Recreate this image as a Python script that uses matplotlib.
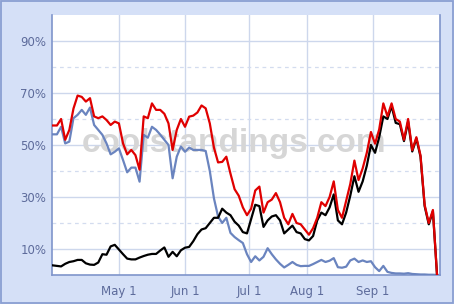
import matplotlib
matplotlib.use('Agg')
import matplotlib.pyplot as plt
import numpy as np
from matplotlib.patches import Rectangle

# sample grid: one point every 2 game days
day = np.arange(0, 188, 2)

playoff = [57.5, 57.5, 60, 52, 55.8, 64, 69, 68.5, 66.7, 68,
           61, 60.3, 61, 59.6, 57.7, 59, 58.3, 50.6, 46.4, 48.1,
           46.1, 40.5, 61, 60.3, 66, 63.5, 63.5, 62, 58.3, 48.1,
           55.8, 60, 57, 60.9, 61.3, 62.5, 65.2, 64.1, 58.3, 49,
           43.3, 43.5, 45.5, 39, 33, 30.5, 26, 23, 25.5, 32.5,
           34, 24, 28, 29, 31.5, 28, 22, 19.5, 23.5, 20,
           19.5, 17.5, 15.5, 18, 22, 28, 26.5, 30, 36, 25,
           22, 28.5, 35, 44, 36.5, 41, 47, 55, 50.5, 56,
           66, 61, 66, 60, 59, 52, 60, 48, 53, 46,
           27, 20, 25, 0]

division = [54.1, 54.1, 57, 50.6, 51.3, 60.3, 61.6, 63.5, 61.6, 64.4,
            57.7, 55.8, 53.9, 50.6, 46.4, 47.4, 48.7, 44.2, 39.5, 41.3,
            41.3, 35.9, 53.9, 52.8, 57, 55.8, 54, 52, 50, 37.2,
            45.5, 49.4, 47.4, 49, 48.1, 48.1, 48.1, 47.7, 40, 29.5,
            22.5, 20, 22, 16.2, 14.6, 13.4, 12.3, 8, 5, 7.2,
            5.6, 7, 10.3, 8, 6, 4.3, 2.9, 3.9, 5, 3.9,
            3.4, 3.5, 3.5, 4.2, 5, 5.8, 5, 5.5, 6.5, 3,
            2.8, 3.2, 5.6, 6.3, 5, 5.6, 5, 5.3, 3, 1.5,
            3.5, 1.2, 0.8, 0.6, 0.6, 0.5, 0.7, 0.4, 0.3, 0.2,
            0.2, 0.1, 0.1, 0]

wildcard = [3.7, 3.5, 3.3, 4.3, 5.0, 5.3, 5.8, 5.8, 4.5, 4.0,
            3.9, 4.8, 8.0, 7.8, 11.0, 11.6, 9.8, 8, 6.3, 6.0,
            6.0, 6.7, 7.3, 7.8, 8.1, 8.1, 9.4, 10.6, 7.0, 8.9,
            7.2, 9.5, 10.5, 10.8, 13, 15.7, 17.5, 18, 20, 22,
            22, 25.5, 24, 23, 20.5, 19, 16.5, 16, 21.5, 27,
            26.5, 18.5, 21, 22.5, 23, 21, 16, 17.5, 19, 16.5,
            16, 13.8, 13.3, 15, 21, 24, 23, 26, 31, 21,
            19.5, 24, 30.5, 38, 32, 36, 42, 50, 47, 53,
            61, 60, 65, 58.5, 58, 51.5, 59, 47.5, 52.5, 45.5,
            26.5, 19.5, 24.5, 0]

tick_days = [32, 64, 95, 123, 155]
tick_labels = ['May 1', 'Jun 1', 'Jul 1', 'Aug 1', 'Sep 1']

bg = '#d5e0f7'
edge = '#8a9fd2'
txt = '#5d6b9b'
grid_c = '#cdd7ec'

fig = plt.figure(figsize=(4.54, 3.04), dpi=100, facecolor=bg)
ax = fig.add_axes([0.1145, 0.0954, 0.8545, 0.8553])
ax.set_facecolor('white')

# outer frame
fig.patches.append(Rectangle((0.002, 0.003), 0.995, 0.994, transform=fig.transFigure,
                             fill=False, edgecolor=edge, linewidth=1.3))

ax.set_xlim(-0.4, 187.4)
ax.set_ylim(0, 100)

ax.set_yticks([10, 30, 50, 70, 90])
ax.set_yticklabels(['10%', '30%', '50%', '70%', '90%'])
ax.set_yticks([20, 40, 60, 80], minor=True)
ax.set_xticks(tick_days)
ax.set_xticklabels(tick_labels)

ax.tick_params(axis='both', which='both', length=0, colors=txt, labelsize=8.5)
ax.tick_params(axis='y', pad=4)
ax.tick_params(axis='x', pad=7)

ax.grid(True, which='major', color=grid_c, linewidth=1, linestyle='-')
ax.grid(True, which='minor', axis='y', color='#d3dcef', linewidth=0.9, linestyle=(0, (3, 3)))
ax.set_axisbelow(True)

for side in ['left', 'bottom', 'right']:
    ax.spines[side].set_color('#7f95cb')
    ax.spines[side].set_linewidth(1.2)
ax.spines['top'].set_visible(False)

# watermark
ax.text(0.47, 0.505, 'coolstandings.com', transform=ax.transAxes, ha='center', va='center',
        fontsize=24, fontweight='bold', color='#d6d6d6', zorder=1,
        family=['Liberation Sans Narrow', 'Liberation Sans', 'DejaVu Sans'])

ax.plot(day, division, color='#6a84bf', linewidth=1.6, zorder=3)
ax.plot(day, wildcard, color='black', linewidth=1.6, zorder=4)
ax.plot(day, playoff, color='#e00000', linewidth=1.6, zorder=5)

fig.savefig('out.png', dpi=100, facecolor=bg)
